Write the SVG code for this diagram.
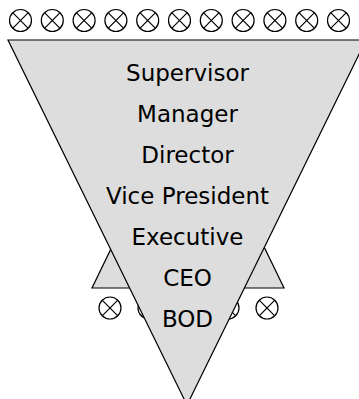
<svg xmlns="http://www.w3.org/2000/svg" width="359" height="399" viewBox="0 0 359 399">
<defs>
<style>
.tri{fill:#dddddd;stroke:#000;stroke-width:1.2}
.c{fill:#fff;stroke:#000;stroke-width:1.2}
.lbl{font-family:"DejaVu Sans",Verdana,sans-serif;font-size:23px;fill:#000;text-anchor:middle}
</style>
<g id="xc">
<circle class="c" cx="0" cy="0" r="11"/>
<path d="M-7.8,-7.8L7.8,7.8M-7.8,7.8L7.8,-7.8" stroke="#000" stroke-width="1.2"/>
</g>
</defs>
<g id="top-markers">
<use href="#xc" x="20.5" y="20.5"/>
<use href="#xc" x="52.3" y="20.5"/>
<use href="#xc" x="84.1" y="20.5"/>
<use href="#xc" x="115.9" y="20.5"/>
<use href="#xc" x="147.7" y="20.5"/>
<use href="#xc" x="179.5" y="20.5"/>
<use href="#xc" x="211.3" y="20.5"/>
<use href="#xc" x="243.1" y="20.5"/>
<use href="#xc" x="274.9" y="20.5"/>
<use href="#xc" x="306.7" y="20.5"/>
<use href="#xc" x="338.5" y="20.5"/>
</g>
<g id="upward-triangle">
<polygon class="tri" points="92,288 284,288 188,90"/>
</g>
<g id="bottom-markers">
<use href="#xc" x="110" y="308"/>
<use href="#xc" x="149" y="308"/>
<use href="#xc" x="228" y="308"/>
<use href="#xc" x="267" y="308"/>
</g>
<g id="inverted-triangle">
<polygon class="tri" points="8,40 366,40 187,405"/>
</g>
<g id="labels">
<text class="lbl" x="187.5" y="81">Supervisor</text>
<text class="lbl" x="187.5" y="122">Manager</text>
<text class="lbl" x="187.5" y="163">Director</text>
<text class="lbl" x="187.5" y="204">Vice President</text>
<text class="lbl" x="187.5" y="245">Executive</text>
<text class="lbl" x="187.5" y="286">CEO</text>
<text class="lbl" x="187.5" y="327">BOD</text>
</g>
</svg>
